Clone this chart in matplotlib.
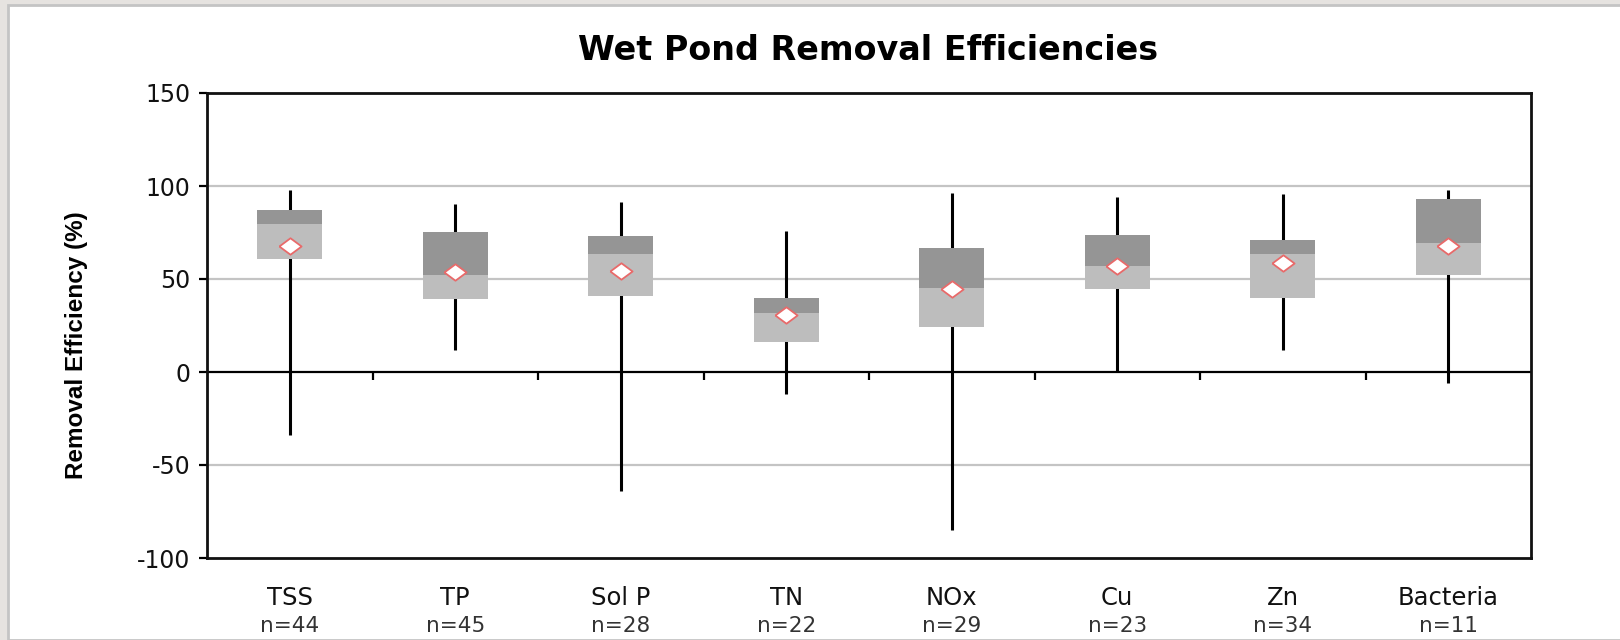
import matplotlib
matplotlib.use("Agg")
import matplotlib.pyplot as plt
from matplotlib.patches import Rectangle
import numpy as np

plt.rcParams["axes.unicode_minus"] = False

# Removal efficiency statistics (%) per pollutant
categories = ["TSS", "TP", "Sol P", "TN", "NOx", "Cu", "Zn", "Bacteria"]
counts = [44, 45, 28, 22, 29, 23, 34, 11]
whisker_low = [-34, 12, -64, -12, -85, 0, 12, -6]
q1 = [60.5, 39, 41, 16, 24, 44.5, 40, 52]
median = [79.5, 52, 63.5, 31.5, 45, 57, 63.5, 69.5]
q3 = [87, 75.5, 73, 40, 66.5, 73.5, 71, 93]
whisker_high = [98, 90.5, 91.5, 76, 96, 94, 95.5, 98]
mean = [67.5, 54, 54.5, 30.5, 44.5, 57, 58.5, 67.5]

W, H = 1620, 640
fig = plt.figure(figsize=(W / 100, H / 100), dpi=100)
fig.patch.set_facecolor("#e6e3e0")
fig.add_artist(Rectangle((8 / W, 0), (W - 8) / W + 0.01, (H - 5) / H,
                         transform=fig.transFigure, facecolor="white",
                         edgecolor="#c4c4c4", linewidth=2, zorder=0))

left, right, top, bottom = 207, 1531, 93, 558
ax = fig.add_axes([left / W, 1 - bottom / H, (right - left) / W, (bottom - top) / H])
ax.set_facecolor("white")

x = np.arange(len(categories))
ax.set_xlim(-0.5, len(categories) - 0.5)
ax.set_ylim(-100, 150)

# Grid lines and zero axis
for g in (100, 50, -50):
    ax.axhline(g, color="#c4c4c4", linewidth=1.6, zorder=1)
ax.axhline(0, color="black", linewidth=1.6, zorder=2)
for b in np.arange(0.5, len(categories) - 0.5, 1.0):
    ax.plot([b, b], [0, -4.5], color="black", linewidth=1.6, zorder=2,
            solid_capstyle="butt")

bw = 0.39
dark = "#959595"
light = "#bdbdbd"
for i in range(len(categories)):
    ax.plot([x[i], x[i]], [whisker_low[i], whisker_high[i]], color="black",
            linewidth=2.2, zorder=3, solid_capstyle="butt")
    ax.add_patch(Rectangle((x[i] - bw / 2, q1[i]), bw, median[i] - q1[i],
                           facecolor=light, edgecolor="none", zorder=4))
    ax.add_patch(Rectangle((x[i] - bw / 2, median[i]), bw, q3[i] - median[i],
                           facecolor=dark, edgecolor="none", zorder=4))

diamond = [(-1.35, 0), (0, 1), (1.35, 0), (0, -1), (-1.35, 0)]
ax.plot(x, mean, linestyle="none", marker=diamond, markersize=16,
        markerfacecolor="white", markeredgecolor="#e86a6a",
        markeredgewidth=1.3, zorder=5)

for s in ax.spines.values():
    s.set_linewidth(2)
    s.set_color("#111111")

ax.set_xticks([])
ax.set_yticks([150, 100, 50, 0, -50, -100])
ax.tick_params(axis="y", direction="out", length=6, width=1.6, pad=6,
               labelsize=17)
for t in ax.get_yticklabels():
    t.set_fontfamily("DejaVu Sans")
    t.set_color("#111111")

for i, (c, n) in enumerate(zip(categories, counts)):
    ax.text(x[i], -121.5, c, ha="center", va="center", fontsize=17.5,
            family="DejaVu Sans", color="#111111")
    ax.text(x[i], -136.5, f"n={n}", ha="center", va="center", fontsize=15.5,
            family="DejaVu Sans", color="#333333")

fig.text(868 / W, 1 - 50 / H, "Wet Pond Removal Efficiencies", ha="center",
         va="center", fontsize=24, fontweight="bold", family="DejaVu Sans")
fig.text(77 / W, 1 - 345 / H, "Removal Efficiency (%)", rotation=90,
         ha="center", va="center", fontsize=17.5, fontweight="bold",
         family="Liberation Sans")

fig.savefig("out.png", dpi=100, facecolor=fig.get_facecolor())
